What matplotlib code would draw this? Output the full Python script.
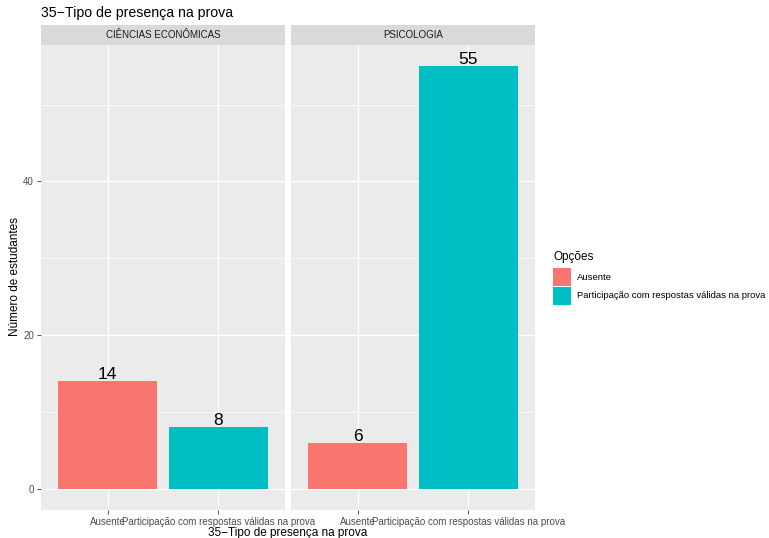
import matplotlib
matplotlib.use("Agg")
import matplotlib.pyplot as plt
from matplotlib.patches import Rectangle

plt.rcParams['font.family'] = ['Liberation Sans', 'DejaVu Sans']

# data
courses = ["CIÊNCIAS ECONÔMICAS", "PSICOLOGIA"]
options = ["Ausente", "Participação com respostas válidas na prova"]
counts = [[14, 8], [6, 55]]
colors = ["#F8766D", "#00BFC4"]
y_ticks = [0, 20, 40]
y_minor = [10, 30, 50]

W, H = 769, 538
fig = plt.figure(figsize=(W / 100, H / 100), dpi=100)


def px_axes(x0, y0, x1, y1):
    # pixel box (top-left origin) -> figure axes
    return fig.add_axes([x0 / W, 1 - y1 / H, (x1 - x0) / W, (y1 - y0) / H])


ymax = max(max(c) for c in counts)
ylo, yhi = -0.05 * ymax, 1.05 * ymax
panels = [(41, 285), (291, 535)]
top, bottom = 45, 510

for i, (course, vals) in enumerate(zip(courses, counts)):
    x0, x1 = panels[i]
    ax = px_axes(x0, top, x1, bottom)
    ax.set_facecolor("#EBEBEB")
    pos = list(range(1, len(options) + 1))
    for y in y_minor:
        ax.axhline(y, color="white", lw=0.5, zorder=0)
    for y in y_ticks:
        ax.axhline(y, color="white", lw=1.0, zorder=0)
    for p in pos:
        ax.axvline(p, color="white", lw=1.0, zorder=0)
    ax.bar(pos, vals, width=0.9, color=colors, zorder=2)
    for p, v in zip(pos, vals):
        ax.text(p, v + 0.25, str(v), ha="center", va="baseline", fontsize=12.5,
                color="black", zorder=3)
    ax.set_xlim(0.4, len(options) + 0.6)
    ax.set_ylim(ylo, yhi)
    ax.set_xticks(pos)
    ax.set_xticklabels(options, fontsize=7, color="#4D4D4D")
    ax.set_yticks(y_ticks)
    if i == 0:
        ax.set_yticklabels([str(t) for t in y_ticks], fontsize=7, color="#4D4D4D")
    else:
        ax.tick_params(axis="y", left=False, labelleft=False)
    ax.tick_params(length=3, width=0.6, color="#333333", pad=2)
    for s in ax.spines.values():
        s.set_visible(False)
    ax.grid(False)

    # facet strip
    sax = px_axes(x0, 25, x1, top)
    sax.set_facecolor("#D9D9D9")
    sax.set_xticks([])
    sax.set_yticks([])
    for s in sax.spines.values():
        s.set_visible(False)
    sax.text(0.5, 0.5, course, ha="center", va="center", fontsize=7,
             color="#1A1A1A", transform=sax.transAxes)

fig.text(41 / W, 1 - 13 / H, "35−Tipo de presença na prova", fontsize=10.2,
         ha="left", va="center")
fig.text(288 / W, 1 - 533 / H, "35−Tipo de presença na prova", fontsize=8.5,
         ha="center", va="center")
fig.text(15 / W, 1 - 277 / H, "Número de estudantes", fontsize=8.5,
         ha="center", va="center", rotation=90)

# legend
fig.text(553 / W, 1 - 257 / H, "Opções", fontsize=8.5, ha="left", va="center")
for k, (lab, col) in enumerate(zip(options, colors)):
    yc = 277 + k * 19
    fig.patches.append(Rectangle((553 / W, 1 - (yc + 9) / H), 18 / W, 18 / H,
                                 transform=fig.transFigure, facecolor=col,
                                 edgecolor="none"))
    fig.text(577 / W, 1 - yc / H, lab, fontsize=6.8, ha="left", va="center")

fig.savefig("out.png", dpi=100, facecolor="white")
